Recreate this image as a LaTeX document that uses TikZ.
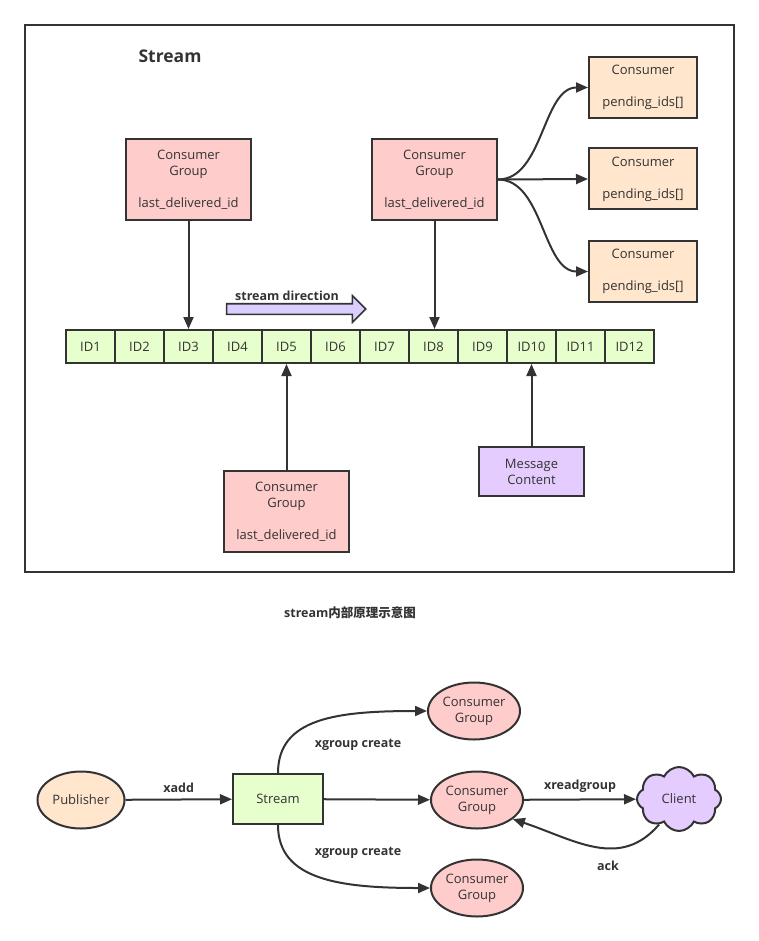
\documentclass[tikz,border=0pt]{standalone}
\usepackage{fontspec}
\setmainfont{Open Sans}
\newfontfamily\cjk{Noto Sans CJK SC}
\usetikzlibrary{positioning,shapes.geometric,shapes.symbols,shapes.arrows,arrows.meta}
\definecolor{pinkfill}{HTML}{FFCCCC}
\definecolor{greenfill}{HTML}{E6FFCC}
\definecolor{peachfill}{HTML}{FFE6CC}
\definecolor{violetfill}{HTML}{E5CCFF}
\definecolor{inkgray}{HTML}{333333}
\tikzstyle{box} = [draw=inkgray, line width=2pt, align=center, text=inkgray, inner sep=0pt, font=\fontsize{13}{16}\selectfont]
\tikzstyle{group} = [box, fill=pinkfill, minimum width=125pt, minimum height=81pt]
\tikzstyle{consumer} = [box, fill=peachfill, minimum width=108pt, minimum height=61pt]
\tikzstyle{idcell} = [box, fill=greenfill, minimum width=49pt, minimum height=33pt]
\tikzstyle{message} = [box, fill=violetfill, minimum width=105pt, minimum height=49pt]
\tikzstyle{roundgroup} = [box, ellipse, fill=pinkfill, minimum width=92pt, minimum height=57pt]
\tikzstyle{link} = [draw=inkgray, line width=2pt, -{Triangle[length=12pt,width=10pt]}]
\tikzstyle{lbl} = [text=inkgray, font=\bfseries\fontsize{12.5}{14}\selectfont]

\begin{document}
\begin{tikzpicture}[x=1pt, y=-1pt]
	\useasboundingbox (0,0) rectangle (759,941);
	\draw[draw=inkgray, line width=2pt] (25,25) rectangle (734,572);
	\node[lbl, font=\bfseries\fontsize{17.5}{20}\selectfont] (title) at (170,56) {Stream};

	\foreach \i in {1,...,12}
		\node[idcell] (id\i) at ({90.5+49*(\i-1)},346.5) {ID\i};

	\node[group] (cgleft) at (188.5,179.5) {Consumer\\Group\\[16pt]last\_delivered\_id};
	\node[group] (cgright) at (434.5,179.5) {Consumer\\Group\\[16pt]last\_delivered\_id};
	\node[group] (cgbottom) at (286.5,511.5) {Consumer\\Group\\[16pt]last\_delivered\_id};
	\node[message] (msg) at (531.5,471.5) {Message\\Content};

	\node[consumer] (cons1) at (643,87.5) {Consumer\\[16pt]pending\_ids[]};
	\node[consumer] (cons2) at (643,179) {Consumer\\[16pt]pending\_ids[]};
	\node[consumer] (cons3) at (643,271.5) {Consumer\\[16pt]pending\_ids[]};

	\node[single arrow, draw=inkgray, line width=1.6pt, fill=violetfill!85!blue!60, minimum height=139pt, minimum width=25pt, single arrow head extend=8pt, inner sep=4.5pt] (dir) at (293.5,309) {};
	\node[lbl] (dirlabel) at (287,296) {stream direction};

	\draw[link] (cgleft) -- (cgleft.south |- id3.north);
	\draw[link] (cgright) -- (cgright.south |- id8.north);
	\draw[link] (cgbottom) -- (cgbottom.north |- id5.south);
	\draw[link] (msg) -- (msg.north |- id10.south);
	\draw[link] (cgright.east) to[out=0, in=180, looseness=0.9] (cons1.west);
	\draw[link] (cgright.east) -- (cons2.west);
	\draw[link] (cgright.east) to[out=0, in=180, looseness=0.9] (cons3.west);

	\node[lbl] (caption) at (350,613) {stream{\cjk 内部原理示意图}};

	\node[box, ellipse, fill=peachfill, minimum width=87pt, minimum height=57pt] (pub) at (81,800) {Publisher};
	\node[box, fill=greenfill, minimum width=90pt, minimum height=50pt] (stream) at (278,799) {Stream};
	\node[roundgroup] (cgtop) at (474,711) {Consumer\\Group};
	\node[roundgroup] (cgmid) at (477,800) {Consumer\\Group};
	\node[roundgroup] (cgbot) at (477,888) {Consumer\\Group};
	\node[box, cloud, cloud puffs=8, cloud puff arc=130, aspect=1.2, fill=violetfill, minimum width=84pt, minimum height=64pt] (client) at (679,799) {Client};

	\draw[link] (pub) -- (stream) node[lbl, midway, above=3pt] {xadd};
	\draw[link] (stream) -- (cgmid);
	\draw[link] (stream.north) .. controls +(0,-55) and +(-90,0) .. (cgtop.west);
	\draw[link] (stream.south) .. controls +(0,55) and +(-90,0) .. (cgbot.west);
	\draw[link] (cgmid) -- (client) node[lbl, midway, above=3pt] {xreadgroup};
	\draw[link] (client.232) .. controls (620,870) and (575,840) .. (cgmid.-28);
	\node[lbl] (createtop) at (358,745) {xgroup create};
	\node[lbl] (createbot) at (358,853) {xgroup create};
	\node[lbl] (ack) at (608,866) {ack};
\end{tikzpicture}
\end{document}
